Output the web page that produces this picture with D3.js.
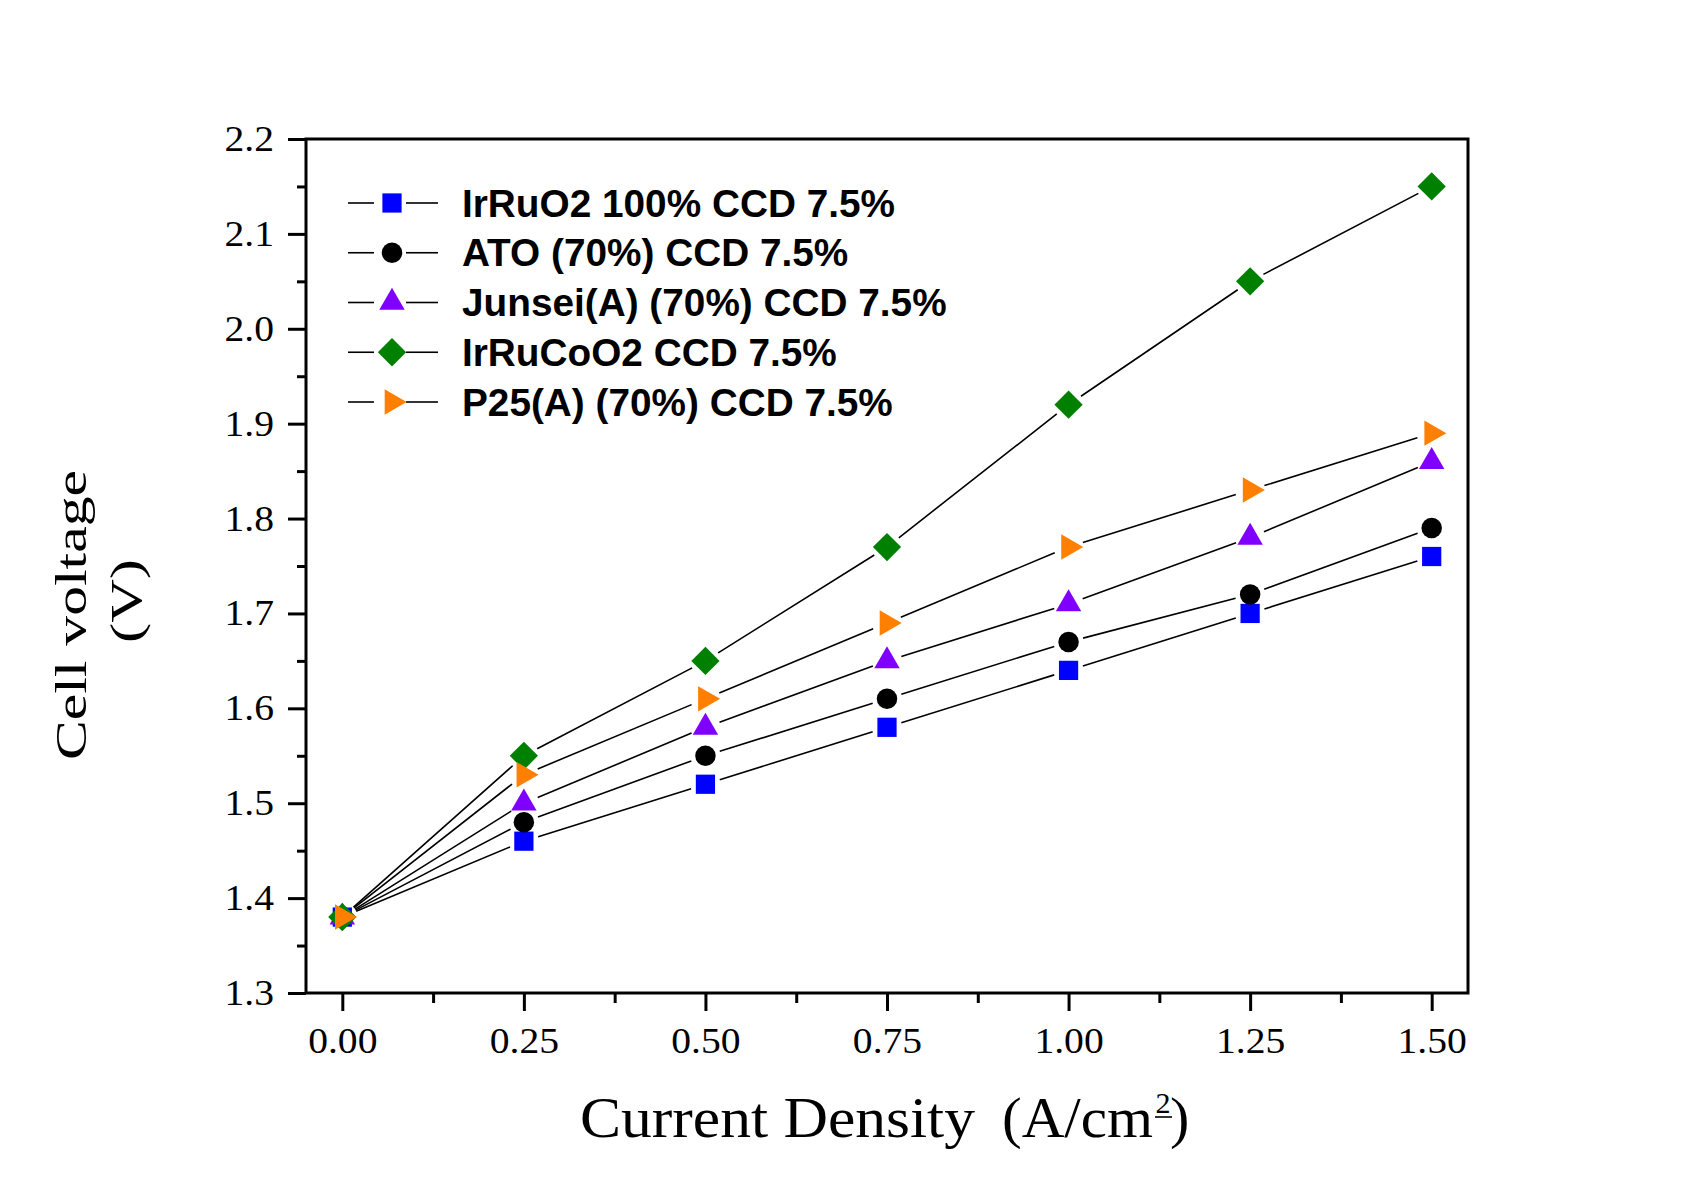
<!DOCTYPE html>
<html><head><meta charset="utf-8">
<script src="https://cdn.jsdelivr.net/npm/d3@7"></script>
<style>body{margin:0;background:#fff}</style>
</head><body>
<svg id="c" width="1705" height="1191"></svg>
<script>
const currentDensity = [0, 0.25, 0.5, 0.75, 1.0, 1.25, 1.5];
const irRuO2 = [1.38, 1.46, 1.52, 1.58, 1.64, 1.70, 1.76];
const ato = [1.38, 1.48, 1.55, 1.61, 1.67, 1.72, 1.79];
const junsei = [1.38, 1.50, 1.58, 1.65, 1.71, 1.78, 1.86];
const irRuCoO2 = [1.38, 1.55, 1.65, 1.77, 1.92, 2.05, 2.15];
const p25 = [1.38, 1.53, 1.61, 1.69, 1.77, 1.83, 1.89];
const seriesNames = ["IrRuO2 100% CCD 7.5%", "ATO (70%) CCD 7.5%", "Junsei(A) (70%) CCD 7.5%", "IrRuCoO2 CCD 7.5%", "P25(A) (70%) CCD 7.5%"];
const xTicks = [0, 0.25, 0.5, 0.75, 1.0, 1.25, 1.5];
const yTicks = [1.3, 1.4, 1.5, 1.6, 1.7, 1.8, 1.9, 2.0, 2.1, 2.2];

const series = [
  {name: seriesNames[0], values: irRuO2, color: "#0000FF", shape: "square"},
  {name: seriesNames[1], values: ato, color: "#000000", shape: "circle"},
  {name: seriesNames[2], values: junsei, color: "#8000FF", shape: "triangle"},
  {name: seriesNames[3], values: irRuCoO2, color: "#008000", shape: "diamond"},
  {name: seriesNames[4], values: p25, color: "#FF8000", shape: "right"}
];

const svg = d3.select("#c");
const L = 306, R = 1468, T = 139, B = 993;
const x = d3.scaleLinear().domain([-0.05, 1.55]).range([L, R]);
const y = d3.scaleLinear().domain([1.3, 2.2]).range([B, T]);

function stretch(sel, factor) {
  sel.each(function () {
    const len = this.getComputedTextLength();
    d3.select(this).attr("textLength", len * factor).attr("lengthAdjust", "spacingAndGlyphs");
  });
}
function fitTo(sel, target) {
  sel.attr("textLength", target).attr("lengthAdjust", "spacingAndGlyphs");
}

function symbolPath(shape) {
  if (shape === "square") return d3.symbol(d3.symbolSquare, 370)();
  if (shape === "circle") return d3.symbol(d3.symbolCircle, 330)();
  if (shape === "triangle") return d3.symbol(d3.symbolTriangle, 280)();
  if (shape === "diamond") return d3.symbol(d3.symbolSquare, 400)();
  if (shape === "right") return d3.symbol(d3.symbolTriangle, 280)();
}
function symbolRot(shape) {
  if (shape === "diamond") return 45;
  if (shape === "right") return 90;
  return 0;
}
function drawMarker(g, shape, color, cx, cy) {
  g.append("path").attr("d", symbolPath(shape))
    .attr("transform", `translate(${cx},${cy}) rotate(${symbolRot(shape)})`)
    .attr("fill", color);
}

// axes
const fontSerif = "'Liberation Serif', 'Times New Roman', serif";
const xAxis = d3.axisBottom(x).tickValues(xTicks).tickSize(18).tickPadding(16)
  .tickFormat(d3.format(".2f"));
svg.append("g").attr("transform", `translate(0,${B})`).call(xAxis);
const yAxis = d3.axisLeft(y).tickValues(yTicks).tickSize(18).tickPadding(14)
  .tickFormat(d3.format(".1f"));
svg.append("g").attr("transform", `translate(${L},0)`).call(yAxis);
const xMinor = xTicks.slice(0, -1).map(d => d + 0.125);
const yMinor = yTicks.slice(0, -1).map(d => d + 0.05);
svg.append("g").attr("transform", `translate(0,${B})`)
  .call(d3.axisBottom(x).tickValues(xMinor).tickSize(10).tickFormat(""));
svg.append("g").attr("transform", `translate(${L},0)`)
  .call(d3.axisLeft(y).tickValues(yMinor).tickSize(9).tickFormat(""));
svg.selectAll(".domain").remove();
svg.selectAll(".tick line").attr("stroke", "#000").attr("stroke-width", 3);
svg.selectAll(".tick text").attr("font-family", fontSerif).attr("font-size", 36).attr("fill", "#000")
  .call(stretch, 1.1);

// frame
svg.append("rect").attr("x", L).attr("y", T).attr("width", R - L).attr("height", B - T)
  .attr("fill", "none").attr("stroke", "#000").attr("stroke-width", 3);

// lines with gaps
const gap = 15;
const gLines = svg.append("g");
series.forEach(s => {
  const pts = currentDensity.map((d, i) => [x(d), y(s.values[i])]);
  let dstr = "";
  for (let i = 0; i < pts.length - 1; i++) {
    const [x0, y0] = pts[i], [x1, y1] = pts[i + 1];
    const len = Math.hypot(x1 - x0, y1 - y0);
    const ux = (x1 - x0) / len, uy = (y1 - y0) / len;
    dstr += `M${x0 + ux * gap},${y0 + uy * gap}L${x1 - ux * gap},${y1 - uy * gap}`;
  }
  gLines.append("path").attr("d", dstr).attr("stroke", "#000").attr("stroke-width", 1.6).attr("fill", "none");
});
const gMarks = svg.append("g");
series.forEach(s => {
  currentDensity.forEach((d, i) => drawMarker(gMarks, s.shape, s.color, x(d), y(s.values[i])));
});

// legend
const leg = svg.append("g");
series.forEach((s, i) => {
  const cy = 203 + i * 49.75;
  leg.append("line").attr("x1", 348).attr("x2", 374).attr("y1", cy).attr("y2", cy).attr("stroke", "#000").attr("stroke-width", 1.6);
  leg.append("line").attr("x1", 406).attr("x2", 438).attr("y1", cy).attr("y2", cy).attr("stroke", "#000").attr("stroke-width", 1.6);
  drawMarker(leg, s.shape, s.color, 392, cy);
  leg.append("text").attr("x", 462).attr("y", cy).attr("dy", "0.36em")
    .attr("font-family", "'Liberation Sans', Arial, sans-serif").attr("font-weight", "bold")
    .attr("font-size", 38).attr("fill", "#000").text(s.name).call(stretch, 1.02);
});

// y axis title
svg.append("text").attr("transform", "translate(86,615) rotate(-90)")
  .attr("text-anchor", "middle").attr("font-family", fontSerif).attr("font-size", 44).attr("fill", "#000")
  .text("Cell voltage").call(fitTo, 290);
svg.append("text").attr("transform", "translate(141,601) rotate(-90)")
  .attr("text-anchor", "middle").attr("font-family", fontSerif).attr("font-size", 44).attr("fill", "#000")
  .text("(V)").call(fitTo, 84);

// x axis title
const xtStyle = s => s.attr("font-family", fontSerif).attr("font-size", 58).attr("fill", "#000");
svg.append("text").attr("x", 580).attr("y", 1137).call(xtStyle).text("Current Density").call(fitTo, 395);
svg.append("text").attr("x", 1002).attr("y", 1137).call(xtStyle).text("(A/cm").call(fitTo, 151);
svg.append("text").attr("x", 1163).attr("y", 1113).attr("text-anchor", "middle")
  .attr("font-family", fontSerif).attr("font-size", 30).attr("fill", "#000").text("2");
svg.append("line").attr("x1", 1155).attr("x2", 1172).attr("y1", 1117).attr("y2", 1117).attr("stroke", "#000").attr("stroke-width", 1.6);
svg.append("text").attr("x", 1170).attr("y", 1137).call(xtStyle).text(")");
</script>
</body></html>
